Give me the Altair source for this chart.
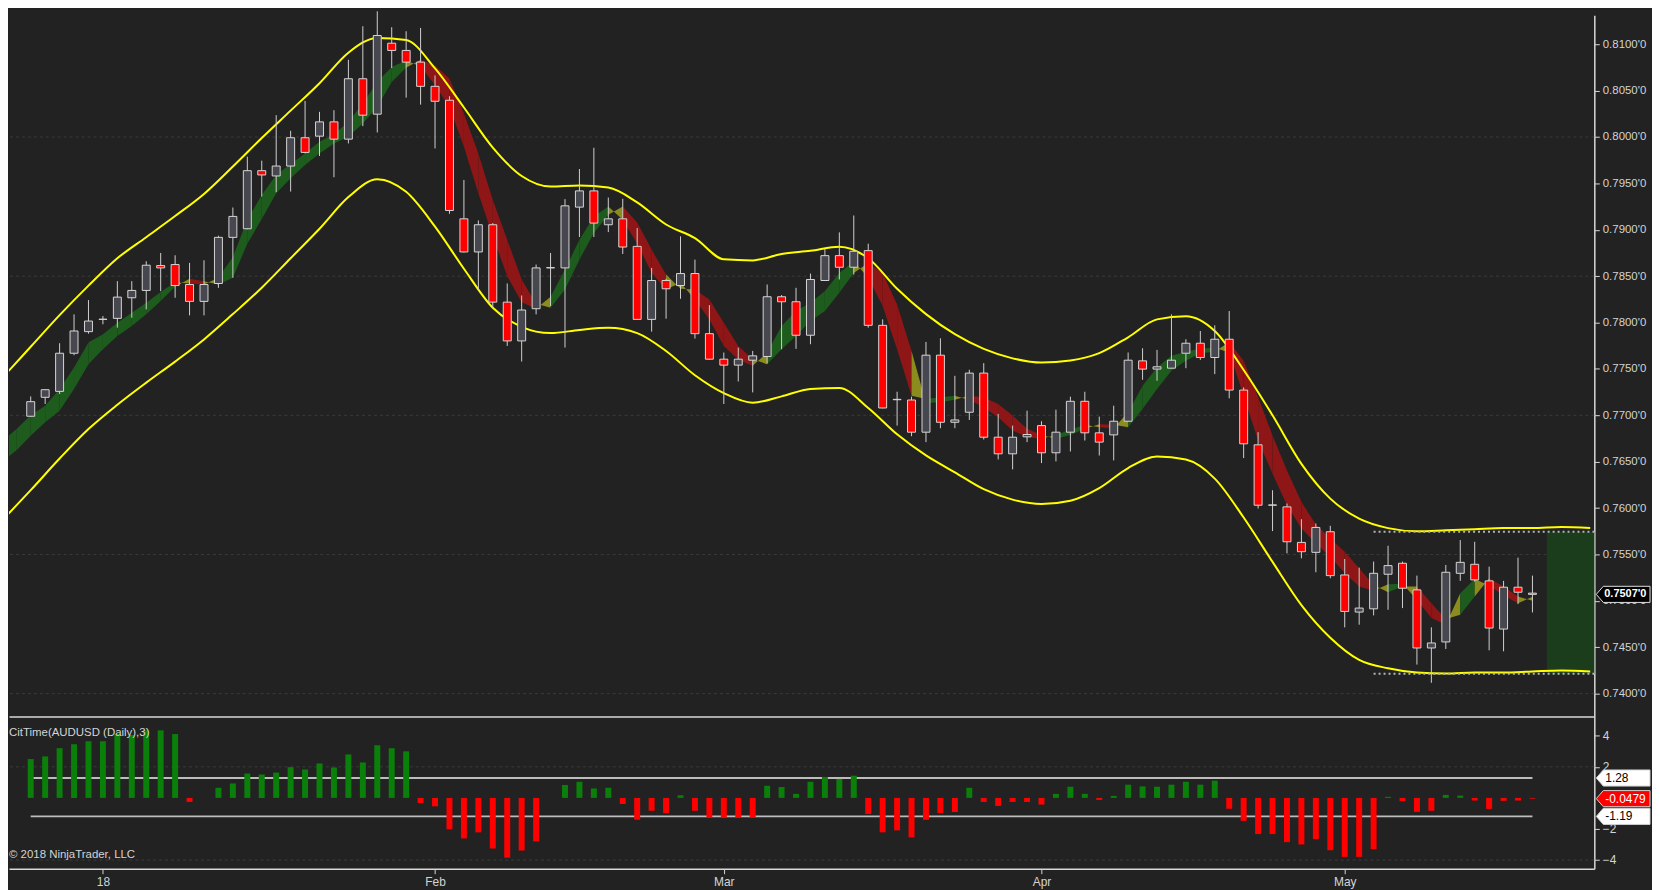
import altair as alt
import pandas as pd

# ---------------- data ----------------
opens = [
    .76990, .77194, .77258, .77669, .77902, .78034, .78045, .78267, .78346, .78614,
    .78625, .78410, .78228, .78421, .78918, .79011, .79637, .79580, .79687, .79992,
    .80009, .80163, .79977, .80628, .80246, .81011, .80933, .80807, .80546, .80396,
    .79118, .78761, .79054, .78220, .77802, .78149, .78589, .78589, .79244, .79419,
    .79054, .79118, .78821, .78034, .78453, .78399, .78528, .77880, .77605, .77541,
    .77594, .77634, .78278, .78224, .77863, .78453, .78721, .78596, .78775, .77970,
    .77168, .77165, .76818, .77648, .76925, .77033, .77455, .76764, .76585, .76768,
    .76889, .76596, .76818, .77151, .76811, .76789, .76936, .77587, .77498, .77508,
    .77669, .77777, .77623, .77820, .77272, .76682, .76031, .76013, .75630, .75523,
    .75745, .75279, .74879, .74914, .75287, .75405, .75118, .74492, .74557, .75297,
    .75394, .75215, .74696, .75147, .75083]
highs = [
    .77204, .77283, .77777, .78088, .78242, .78070, .78446, .78446, .78661, .78750,
    .78725, .78643, .78671, .78936, .79240, .79788, .79745, .80235, .80067, .80389,
    .80271, .80289, .80832, .81194, .81355, .81183, .81140, .81176, .80664, .80439,
    .79537, .79101, .79072, .78421, .78292, .78625, .78750, .79330, .79655, .79884,
    .79347, .79333, .79018, .78589, .78471, .78929, .78678, .78188, .77677, .77730,
    .77694, .78410, .78296, .78374, .78528, .78793, .78972, .79154, .78850, .78034,
    .77254, .77201, .77791, .77830, .77426, .77491, .77562, .77015, .76889, .77050,
    .76936, .77061, .77201, .77254, .76986, .77104, .77677, .77723, .77705, .78088,
    .77820, .77909, .77970, .78124, .77301, .76818, .76192, .76049, .75880, .75834,
    .75809, .75451, .75358, .75423, .75594, .75423, .75272, .74714, .75387, .75655,
    .75637, .75369, .75215, .75466, .75272]
lows = [
    .76985, .77122, .77229, .77648, .77880, .77981, .77945, .78052, .78142, .78338,
    .78267, .78077, .78077, .78374, .78482, .79005, .79358, .79405, .79412, .79823,
    .79795, .79566, .79931, .80117, .80049, .80743, .80424, .80349, .79877, .79172,
    .78755, .78349, .78160, .77748, .77580, .78088, .78177, .77730, .78922, .78922,
    .78975, .78739, .78030, .77902, .78041, .78256, .77827, .77600, .77122, .77365,
    .77247, .77558, .77712, .77716, .77766, .78448, .78464, .78517, .77945, .77075,
    .76889, .76775, .76711, .76861, .76861, .76950, .76739, .76524, .76417, .76711,
    .76485, .76503, .76610, .76728, .76567, .76514, .76930, .77383, .77372, .77505,
    .77508, .77598, .77444, .77183, .76539, .75995, .75752, .75512, .75458, .75308,
    .75244, .74714, .74743, .74843, .74904, .74922, .74313, .74117, .74481, .75215,
    .75208, .74467, .74456, .74965, .74875]
closes = [
    .77147, .77276, .77669, .77909, .78016, .78036, .78274, .78346, .78618, .78589,
    .78399, .78228, .78410, .78918, .79144, .79637, .79591, .79687, .79992, .79834,
    .80163, .79977, .80628, .80235, .81094, .80933, .80807, .80546, .80385, .79208,
    .78761, .79054, .78220, .77802, .78135, .78589, .78592, .79258, .79419, .79072,
    .79118, .78814, .78034, .78453, .78364, .78528, .77880, .77605, .77541, .77605,
    .77641, .78278, .78224, .77863, .78464, .78721, .78596, .78768, .77970, .77079,
    .77172, .76818, .77648, .76925, .76950, .77455, .76764, .76585, .76764, .76793,
    .76596, .76818, .77151, .76811, .76711, .76936, .77594, .77498, .77523, .77594,
    .77777, .77623, .77820, .77272, .76693, .76031, .76034, .75637, .75530, .75791,
    .75272, .74886, .74922, .75297, .75380, .75136, .74492, .74546, .75308, .75415,
    .75226, .74707, .75147, .75093, .75070]

# ribbon (fast / slow averages), bar index -2 .. 104
rib_start = -2
rib_fast = [
    .7672, .7685, .7700,
    .77104, .77283, .77516, .77784, .77873, .77999, .78106, .78213, .78328, .78435,
    .78421, .78410, .78482, .78707, .79108, .79376, .79591, .79709, .79823, .79949,
    .80027, .80163, .80360, .80593, .80754, .80825, .80761, .80557, .80324, .79895,
    .79394, .78929, .78500, .78220, .78149, .78278, .78571, .78893, .79144, .79251,
    .79108, .78850, .78535, .78356, .78428, .78249, .78034, .77748, .77598, .77533,
    .77677, .77963, .78124, .78213, .78339, .78535, .78661, .78482, .78178, .77712,
    .77211, .77176, .77194, .77211, .77165, .77086, .76979, .76836, .76764, .76746,
    .76789, .76843, .76897, .76871, .76861, .77033, .77319, .77516, .77641, .77684,
    .77720, .77727, .77677, .77212, .76728, .76371, .76031, .75780, .75619, .75476,
    .75297, .75154, .75108, .75179, .75183, .75011, .74814, .74743, .75083, .75236,
    .75165, .75058, .74975, .75043]
rib_slow = [
    .7650, .7662, .7678,
    .76925, .77050, .77283, .77551, .77712, .77855, .77963, .78088, .78231, .78385,
    .78471, .78446, .78410, .78482, .78850, .79115, .79394, .79555, .79698, .79823,
    .79931, .80002, .80145, .80324, .80593, .80746, .80832, .80772, .80628, .80253,
    .79823, .79322, .78893, .78464, .78202, .78160, .78356, .78678, .78965, .79161,
    .79251, .79079, .78786, .78517, .78364, .78356, .78249, .77999, .77748, .77605,
    .77551, .77712, .77855, .78016, .78124, .78321, .78535, .78643, .78535, .78195,
    .77694, .77133, .77140, .77168, .77211, .77194, .77122, .76997, .76854, .76789,
    .76746, .76789, .76854, .76904, .76897, .76871, .77068, .77283, .77480, .77587,
    .77669, .77684, .77791, .77587, .77194, .76782, .76406, .76067, .75823, .75673,
    .75530, .75351, .75172, .75093, .75154, .75154, .74975, .74804, .74850, .75047,
    .75243, .75154, .75047, .75000]

# envelope bands, sampled at even bar indices -2 .. 108
band_idx = [-2, 0, 2, 4, 6, 8, 10, 12, 14, 16, 18, 20, 22, 24, 26, 28, 30, 32, 34, 36,
            38, 40, 42, 44, 46, 48, 50, 52, 54, 56, 58, 60, 62, 64, 66, 68, 70, 72, 74, 76,
            78, 80, 82, 84, 86, 88, 90, 92, 94, 96, 98, 100, 102, 104, 106, 108]
band_upper = [
    .77398, .77739, .78080, .78398, .78693, .78920, .79148, .79386, .79682, .79989,
    .80284, .80580, .80909, .81068, .81045, .80739, .80318, .79886, .79580, .79466,
    .79477, .79455, .79295, .79057, .78909, .78682, .78670, .78739, .78773, .78818,
    .78693, .78364, .78091, .77875, .77716, .77614, .77568, .77591, .77670, .77841,
    .78034, .78068, .77909, .77489, .77000, .76477, .76102, .75886, .75784, .75750,
    .75761, .75773, .75784, .75784, .75795, .75784]
band_lower = [
    .75864, .76193, .76534, .76852, .77114, .77352, .77579, .77818, .78091, .78375,
    .78693, .79011, .79352, .79545, .79409, .79034, .78580, .78159, .77954, .77886,
    .77920, .77943, .77886, .77693, .77432, .77239, .77136, .77204, .77284, .77295,
    .77079, .76795, .76568, .76386, .76204, .76091, .76045, .76080, .76216, .76432,
    .76557, .76523, .76318, .75898, .75420, .74954, .74602, .74363, .74273, .74227,
    .74216, .74227, .74227, .74239, .74250, .74239]

# oscillator histogram, one value per bar
osc = [
    2.50, 2.67, 3.20, 3.46, 3.65, 3.65, 4.13, 4.05, 4.35, 4.35,
    4.11, -0.26, 0.00, 0.65, 0.93, 1.57, 1.50, 1.63, 1.98, 1.83,
    2.22, 1.96, 2.80, 2.28, 3.39, 3.20, 3.00, -0.33, -0.54, -2.02,
    -2.61, -2.22, -3.26, -3.85, -3.39, -2.80, 0.00, 0.83, 1.04, 0.61,
    0.65, -0.39, -1.41, -0.83, -0.98, 0.17, -0.83, -1.26, -1.30, -1.26,
    -1.24, 0.78, 0.70, 0.26, 1.04, 1.35, 1.22, 1.43, -1.04, -2.22,
    -2.09, -2.54, -1.41, -0.98, -0.91, 0.65, -0.26, -0.52, -0.26, -0.26,
    -0.43, 0.26, 0.72, 0.26, -0.13, 0.13, 0.85, 0.74, 0.72, 0.85,
    1.04, 0.85, 1.11, -0.70, -1.48, -2.33, -2.33, -2.85, -3.00, -2.65,
    -3.37, -3.80, -3.80, -3.30, 0.07, -0.21, -0.90, -0.83, 0.19, 0.15,
    -0.17, -0.71, -0.19, -0.17, -0.0479]
osc_levels = [1.28, -1.19]
osc_level_span = [0, 104]
osc_name = "CitTime(AUDUSD (Daily),3)"
copyright_txt = "\u00a9 2018 NinjaTrader, LLC"

month_idx = [5, 28, 48, 70, 91]
month_lbl = ["18", "Feb", "Mar", "Apr", "May"]
price_ticks = [0.7400, 0.7450, 0.7500, 0.7550, 0.7600, 0.7650, 0.7700, 0.7750,
               0.7800, 0.7850, 0.7900, 0.7950, 0.8000, 0.8050, 0.8100]
price_grid = [0.7400, 0.7550, 0.7700, 0.7850, 0.8000]
osc_ticks = [4, 2, -2, -4]
osc_grid = [2, -4]

proj_span = [93, 108.42]
proj_box_span = [105, 108.42]
proj_levels = [0.75745, 0.74213]

x_domain = [-1.16, 107.94]
price_domain = [0.73753, 0.81311]
osc_domain = [-4.56, 5.24]

# ---------------- styling ----------------
W, H1, H2 = 1594, 705, 153
FONT = "Liberation Sans"
TXT = "#d4d4d4"
AX = "#d8d8d8"
BG = "#222222"

COL_UP_BODY, COL_DN_BODY = "#47474f", "#ff0000"
COL_RIB = {"up": "#1d5c1d", "down": "#8e1616", "cross": "#8c8c1e"}
COL_POS, COL_NEG = "#0a7f0a", "#ff0000"

xscale = alt.Scale(domain=x_domain, nice=False, zero=False)
pscale = alt.Scale(domain=price_domain, nice=False, zero=False)
oscale = alt.Scale(domain=osc_domain, nice=False, zero=False)

lbl_expr = "''"
for k, s in reversed(list(zip(month_idx, month_lbl))):
    lbl_expr = "datum.value == %d ? '%s' : %s" % (k, s, lbl_expr)

ax_px = alt.Axis(orient="bottom", labels=False, ticks=False, grid=False, domain=True,
                 domainColor=AX, domainWidth=1.5, title=None)
ax_py = alt.Axis(orient="right", values=price_ticks,
                 labelExpr="format(datum.value, '.4f') + \"'0\"",
                 grid=False, title=None, tickSize=5, tickColor=AX, domainColor=AX,
                 domainWidth=1.5, labelColor=TXT, labelFont=FONT, labelFontSize=11.5,
                 labelPadding=3)
ax_ox = alt.Axis(orient="bottom", values=month_idx, labelExpr=lbl_expr, grid=False,
                 title=None, tickSize=5, tickColor=AX, domainColor=AX, domainWidth=1.5,
                 labelColor=TXT, labelFont=FONT, labelFontSize=12, labelPadding=3,
                 labelFlush=False)
ax_oy = alt.Axis(orient="right", values=osc_ticks, grid=False, title=None, tickSize=5,
                 tickColor=AX, domainColor=AX, domainWidth=1.5, labelColor=TXT,
                 labelFont=FONT, labelFontSize=12, labelPadding=3)


def PX(f):
    return alt.X(f, type="quantitative", scale=xscale, axis=ax_px)


def PY(f):
    return alt.Y(f, type="quantitative", scale=pscale, axis=ax_py)


def OX(f):
    return alt.X(f, type="quantitative", scale=xscale, axis=ax_ox)


def OY(f):
    return alt.Y(f, type="quantitative", scale=oscale, axis=ax_oy)


# ---------------- frames ----------------
n = len(closes)
candles = pd.DataFrame({"i": list(range(n)), "o": opens, "h": highs, "l": lows, "c": closes})
candles["col"] = [COL_UP_BODY if c >= o else COL_DN_BODY for o, c in zip(opens, closes)]

rows = []
for j in range(len(rib_fast) - 1):
    a0 = rib_fast[j] - rib_slow[j]
    a1 = rib_fast[j + 1] - rib_slow[j + 1]
    if a0 > 0 and a1 > 0:
        kind = "up"
    elif a0 < 0 and a1 < 0:
        kind = "down"
    else:
        kind = "cross"
    for t in (j, j + 1):
        rows.append({"i": rib_start + t, "f": rib_fast[t], "s": rib_slow[t], "seg": j,
                     "col": COL_RIB[kind]})
ribbon = pd.DataFrame(rows)

bands = pd.DataFrame({
    "i": band_idx + band_idx,
    "v": band_upper + band_lower,
    "b": ["upper"] * len(band_idx) + ["lower"] * len(band_idx),
})

# ---------------- price pane ----------------
grid_p = alt.Chart(pd.DataFrame({"p": price_grid})).mark_rule(
    color="#3a3a3a", strokeDash=[3, 3], strokeWidth=1
).encode(y=PY("p"))

box = alt.Chart(pd.DataFrame({"x0": [proj_box_span[0]], "x1": [proj_box_span[1]],
                              "lo": [proj_levels[1]], "hi": [proj_levels[0]]})).mark_rect(
    color="#1b3d1b", clip=True
).encode(x=PX("x0"), x2="x1", y=PY("lo"), y2="hi")

rib = alt.Chart(ribbon).mark_area(clip=True, orient="vertical", interpolate="linear").encode(
    x=PX("i"), y=PY("f"), y2="s", detail="seg:N",
    color=alt.Color("col:N", scale=None),
)

band_lines = alt.Chart(bands).mark_line(
    clip=True, interpolate="monotone", color="#ffff00", strokeWidth=2
).encode(x=PX("i"), y=PY("v"), detail="b:N")

proj_lines = alt.Chart(pd.DataFrame({"y": proj_levels, "x0": [proj_span[0]] * 2,
                                     "x1": [proj_span[1]] * 2})).mark_rule(
    color="#b4b4b4", strokeDash=[2, 3], strokeWidth=2, clip=True
).encode(x=PX("x0"), x2="x1", y=PY("y"))

wicks = alt.Chart(candles).mark_rule(color="#d0d0d0", strokeWidth=1).encode(
    x=PX("i"), y=PY("l"), y2="h")

bodies = alt.Chart(candles).mark_bar(size=8, stroke="#d6d6d6", strokeWidth=1).encode(
    x=PX("i"), y=PY("o"), y2="c", color=alt.Color("col:N", scale=None))

TAG = "M-1,0 L-0.74,-0.30 L1,-0.30 L1,0.30 L-0.74,0.30 Z"
TAGW = 54
last_df = pd.DataFrame({"p": [closes[-1]], "t": ["%.4f'0" % closes[-1]]})
tag_p = alt.Chart(last_df).mark_point(
    shape=TAG, filled=True, fill="#000000", stroke="#e0e0e0", strokeWidth=1, size=TAGW * TAGW,
    opacity=1
).encode(x=alt.value(W + 2 + TAGW / 2), y=PY("p"))
tag_pt = alt.Chart(last_df).mark_text(
    align="left", baseline="middle", font=FONT, fontSize=11, color="#ffffff", fontWeight="bold"
).encode(x=alt.value(W + 10), y=PY("p"), text="t:N")

price = alt.layer(grid_p, box, rib, band_lines, proj_lines, wicks, bodies, tag_p, tag_pt).properties(
    width=W, height=H1)

# ---------------- oscillator pane ----------------
hist = pd.DataFrame({"i": list(range(n)), "v": osc, "z": [0.0] * n,
                     "col": [COL_POS if v > 0 else COL_NEG for v in osc]})

grid_o = alt.Chart(pd.DataFrame({"v": osc_grid})).mark_rule(
    color="#3a3a3a", strokeDash=[3, 3], strokeWidth=1
).encode(y=OY("v"))

lvl = alt.Chart(pd.DataFrame({"y": osc_levels, "x0": [osc_level_span[0]] * 2,
                              "x1": [osc_level_span[1]] * 2})).mark_rule(
    color="#bdbdbd", strokeWidth=2
).encode(x=OX("x0"), x2="x1", y=OY("y"))

bars = alt.Chart(hist).mark_bar(size=6).encode(
    x=OX("i"), y=OY("z"), y2="v", color=alt.Color("col:N", scale=None))

name_txt = alt.Chart(pd.DataFrame({"t": [osc_name]})).mark_text(
    align="left", baseline="middle", font=FONT, fontSize=11.5, color=TXT
).encode(x=alt.value(0), y=alt.value(17), text="t:N")
copy_txt = alt.Chart(pd.DataFrame({"t": [copyright_txt]})).mark_text(
    align="left", baseline="middle", font=FONT, fontSize=11.5, color=TXT
).encode(x=alt.value(0), y=alt.value(139), text="t:N")

tags = pd.DataFrame({
    "v": [osc_levels[0], osc[-1], osc_levels[1]],
    "t": ["%.2f" % osc_levels[0], "%.4f" % osc[-1], "%.2f" % osc_levels[1]],
    "fc": ["#ffffff", "#ff0000", "#ffffff"],
    "tc": ["#000000", "#ffffff", "#000000"],
})
tag_o = alt.Chart(tags).mark_point(
    shape=TAG, filled=True, strokeWidth=1, size=TAGW * TAGW, opacity=1, stroke="#d0d0d0"
).encode(x=alt.value(W + 2 + TAGW / 2), y=OY("v"), fill=alt.Fill("fc:N", scale=None))
tag_ot = alt.Chart(tags).mark_text(
    align="left", baseline="middle", font=FONT, fontSize=12
).encode(x=alt.value(W + 11), y=OY("v"), text="t:N", color=alt.Color("tc:N", scale=None))

oscp = alt.layer(grid_o, lvl, bars, name_txt, copy_txt, tag_o, tag_ot).properties(width=W, height=H2)

chart = alt.vconcat(price, oscp, spacing=0, padding=0, background=BG).configure_view(
    stroke=None).configure_concat(spacing=0)

chart.save("out.html", embed_options={"renderer": "svg", "actions": False})
